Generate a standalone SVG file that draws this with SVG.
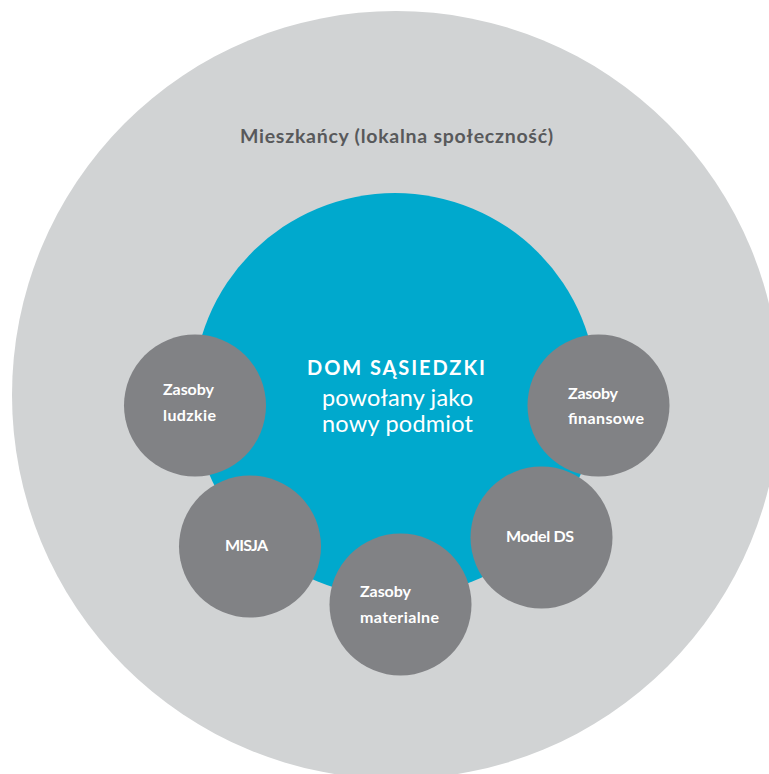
<svg xmlns="http://www.w3.org/2000/svg" width="769" height="774" viewBox="0 0 769 774">
  <style>
    .bg { fill: #ffffff; }
    .outer { fill: #d1d3d4; }
    .core { fill: #00a9cd; }
    .res { fill: #818285; }
    .title { font-family: Lato, "Open Sans", "Liberation Sans", sans-serif; font-weight: 700; font-size: 19.5px; fill: #58595b; }
    .head { font-family: Lato, "Open Sans", "Liberation Sans", sans-serif; font-weight: 700; font-size: 20px; fill: #ffffff; }
    .sub { font-family: Lato, "Open Sans", "Liberation Sans", sans-serif; font-weight: 400; font-size: 23.5px; fill: #ffffff; }
    .lbl { font-family: Lato, "Open Sans", "Liberation Sans", sans-serif; font-weight: 700; font-size: 16px; fill: #ffffff; }
  </style>
  <rect class="bg" x="0" y="0" width="769" height="774"/>
  <g id="community">
    <circle class="outer" cx="396" cy="395" r="384"/>
    <text class="title" x="240" y="143" textLength="313">Mieszkańcy (lokalna społeczność)</text>
  </g>
  <g id="dom-sasiedzki">
    <circle class="core" cx="395" cy="395" r="202"/>
    <text class="head" x="307" y="375" textLength="178">DOM SĄSIEDZKI</text>
    <text class="sub" x="322" y="406" textLength="151">powołany jako</text>
    <text class="sub" x="322" y="432" textLength="151">nowy podmiot</text>
  </g>
  <g id="zasoby-ludzkie">
    <circle class="res" cx="195" cy="405.5" r="71"/>
    <text class="lbl" x="163" y="395" textLength="51">Zasoby</text>
    <text class="lbl" x="163" y="421" textLength="53">ludzkie</text>
  </g>
  <g id="zasoby-finansowe">
    <circle class="res" cx="598.5" cy="405.5" r="71"/>
    <text class="lbl" x="568" y="399" textLength="50">Zasoby</text>
    <text class="lbl" x="568" y="424" textLength="76">finansowe</text>
  </g>
  <g id="misja">
    <circle class="res" cx="250" cy="546.5" r="71"/>
    <text class="lbl" x="225" y="551" textLength="43">MISJA</text>
  </g>
  <g id="model-ds">
    <circle class="res" cx="541.5" cy="537.5" r="71"/>
    <text class="lbl" x="506" y="542" textLength="68">Model DS</text>
  </g>
  <g id="zasoby-materialne">
    <circle class="res" cx="400.5" cy="604.5" r="71"/>
    <text class="lbl" x="360" y="597" textLength="51">Zasoby</text>
    <text class="lbl" x="360" y="623" textLength="79">materialne</text>
  </g>
  <g id="connectors"></g>
</svg>
